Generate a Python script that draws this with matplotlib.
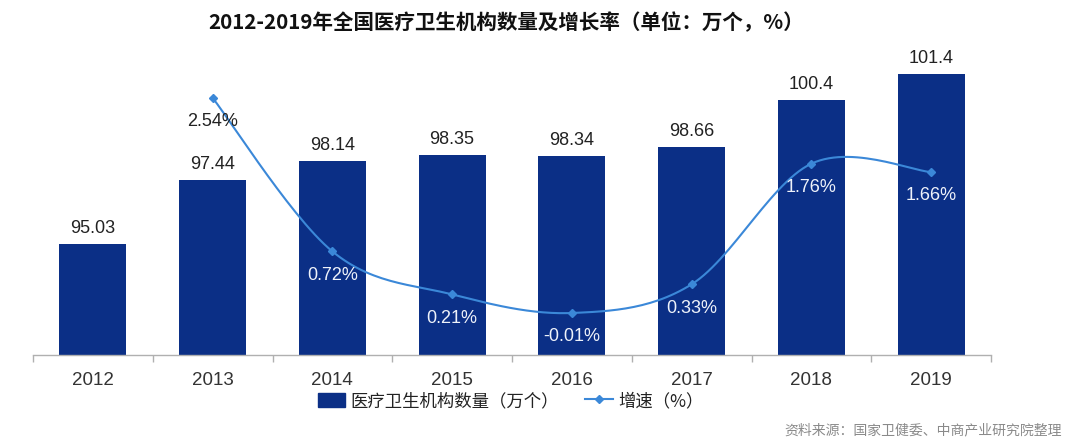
import matplotlib
matplotlib.use("Agg")
import matplotlib.pyplot as plt
import numpy as np
from matplotlib.patches import Rectangle
from matplotlib.lines import Line2D

plt.rcParams['font.family'] = ['Liberation Sans', 'Noto Sans CJK SC', 'DejaVu Sans']

# data
years = ['2012', '2013', '2014', '2015', '2016', '2017', '2018', '2019']
counts = [95.03, 97.44, 98.14, 98.35, 98.34, 98.66, 100.4, 101.4]
growth_years = ['2013', '2014', '2015', '2016', '2017', '2018', '2019']
growth = [2.54, 0.72, 0.21, -0.01, 0.33, 1.76, 1.66]

title = '2012-2019年全国医疗卫生机构数量及增长率（单位：万个，%）'
bar_label = '医疗卫生机构数量（万个）'
line_label = '增速（%）'
source = '资料来源：国家卫健委、中商产业研究院整理'

bar_color = '#0b2f86'
line_color = '#3b88d8'


def catmull_rom(xs, ys, n=30):
    # excel-like smoothed line through the points
    pts = np.column_stack([xs, ys]).astype(float)
    p = np.vstack([pts[0], pts, pts[-1]])
    out = []
    for i in range(1, len(p) - 2):
        p0, p1, p2, p3 = p[i - 1], p[i], p[i + 1], p[i + 2]
        c1 = p1 + (p2 - p0) / 6.0
        c2 = p2 - (p3 - p1) / 6.0
        t = np.linspace(0, 1, n)[:, None]
        seg = ((1 - t) ** 3) * p1 + 3 * ((1 - t) ** 2) * t * c1 + 3 * (1 - t) * t ** 2 * c2 + t ** 3 * p2
        out.append(seg if i == 1 else seg[1:])
    out = np.vstack(out)
    return out[:, 0], out[:, 1]


fig = plt.figure(figsize=(10.8, 4.47), dpi=100)
W, H = 1080, 447
ax = fig.add_axes([33 / W, 1 - 355 / H, (991 - 33) / W, (355 - 40) / H])

x = np.arange(len(years))
ax.bar(x, counts, width=0.56, color=bar_color, zorder=2)
ax.set_xlim(-0.5, len(years) - 0.5)
ax.set_ylim(90.9, 102.65)

for xi, v in zip(x, counts):
    ax.annotate(f'{v:g}', (xi, v), xytext=(0, 5), textcoords='offset points',
                ha='center', va='bottom', fontsize=13, color='#222222')

for s in ['top', 'left', 'right']:
    ax.spines[s].set_visible(False)
ax.spines['bottom'].set_color('#b0b0b0')
ax.spines['bottom'].set_linewidth(1.0)
ax.set_yticks([])
ax.set_xticks(x)
ax.set_xticklabels(years, fontsize=13.5, color='#333333')
ax.tick_params(axis='x', which='major', length=0, pad=12)
ax.set_xticks(np.arange(-0.5, len(years), 1.0), minor=True)
ax.tick_params(axis='x', which='minor', length=5, color='#b0b0b0', width=1.0)

ax2 = ax.twinx()
ax2.set_ylim(-0.508, 3.226)
ax2.axis('off')
gx = np.array([years.index(y) for y in growth_years])
sx, sy = catmull_rom(gx, growth)
ax2.plot(sx, sy, color=line_color, lw=1.5, zorder=3)
ax2.plot(gx, growth, linestyle='none', marker='D', markersize=4, color=line_color, zorder=4)

for xi, v in zip(gx, growth):
    c = '#222222' if v > 2 else '#eef2fa'
    ax2.annotate(f'{v:.2f}%', (xi, v), xytext=(0, -11), textcoords='offset points',
                 ha='center', va='top', fontsize=13, color=c, zorder=5)

fig.text(506 / W, 1 - 23 / H, title, ha='center', va='center', fontsize=14.8,
         fontweight='bold', family=['Noto Sans CJK SC', 'DejaVu Sans'], color='#111111')

handles = [Rectangle((0, 0), 1, 1, color=bar_color),
           Line2D([0], [0], color=line_color, lw=1.5, marker='D', markersize=4)]
leg = fig.legend(handles, [bar_label, line_label], loc='center left',
                 bbox_to_anchor=(302 / W, 1 - 401 / H), ncol=2, frameon=False,
                 prop={'family': ['Noto Sans CJK SC'], 'size': 12.5},
                 handlelength=1.6, handleheight=0.9, handletextpad=0.3, columnspacing=1.5)
for t in leg.get_texts():
    t.set_color('#222222')

fig.text(1062 / W, 1 - 430 / H, source, ha='right', va='center', fontsize=10,
         family=['Noto Sans CJK SC'], color='#8a8a8a')

fig.savefig('out.png', dpi=100)
